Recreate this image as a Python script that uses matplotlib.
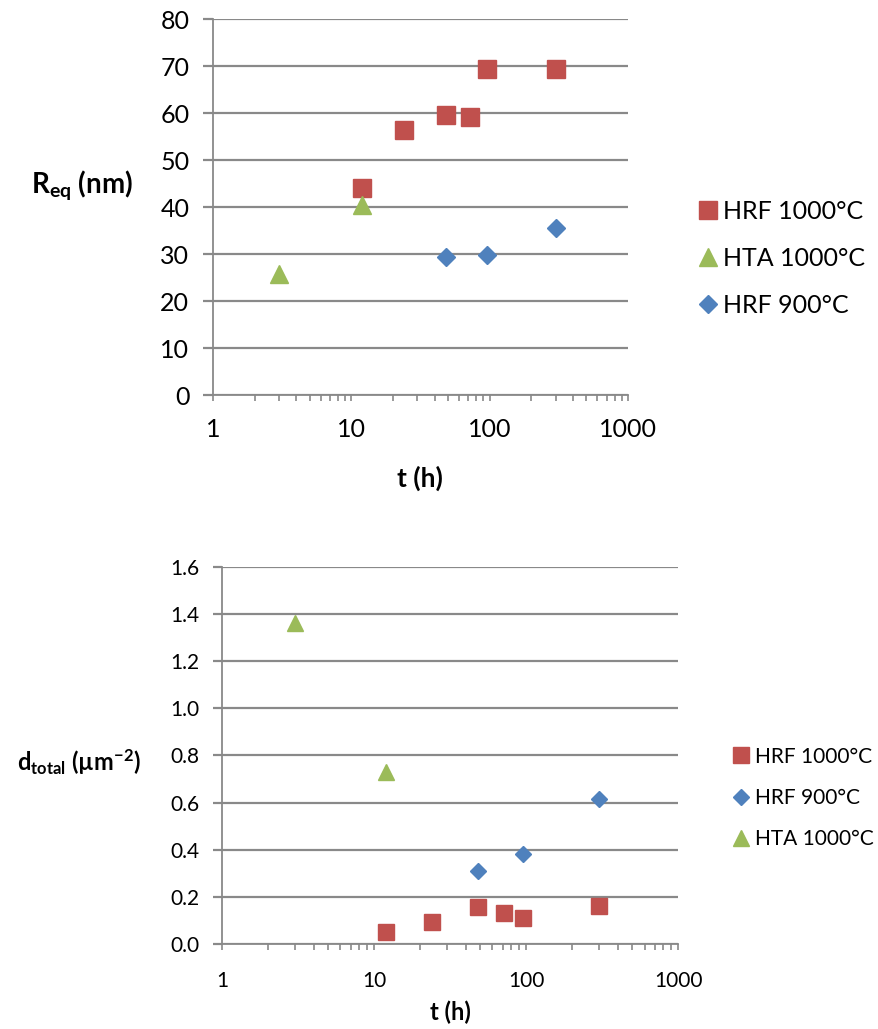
import matplotlib
matplotlib.use("Agg")
import matplotlib.pyplot as plt
from matplotlib.ticker import LogLocator, NullFormatter, FixedLocator

plt.rcParams["font.family"] = ["Lato", "DejaVu Sans"]
plt.rcParams["mathtext.fontset"] = "custom"
plt.rcParams["mathtext.rm"] = "Lato:bold"
plt.rcParams["mathtext.default"] = "rm"

# top panel: equivalent radius
t_hrf1000 = [12, 24, 48, 72, 96, 300]
r_hrf1000 = [44.0, 56.4, 59.6, 59.2, 69.3, 69.3]
t_hta1000 = [3, 12]
r_hta1000 = [25.7, 40.4]
t_hrf900 = [48, 96, 300]
r_hrf900 = [29.3, 29.9, 35.6]

# bottom panel: total density
d_hrf1000 = [0.049, 0.094, 0.158, 0.130, 0.109, 0.162]
d_hrf900 = [0.310, 0.384, 0.614]
d_hta1000 = [1.362, 0.731]

x_ticks = [1, 10, 100, 1000]
r_ticks = [0, 10, 20, 30, 40, 50, 60, 70, 80]
d_ticks = [0.0, 0.2, 0.4, 0.6, 0.8, 1.0, 1.2, 1.4, 1.6]

RED = "#C0504D"
GREEN = "#9BBB59"
BLUE = "#4F81BD"
GRID = "#898989"

fig = plt.figure(figsize=(8.79, 10.29), dpi=100)


def style_axis(ax, yticks, yfmt, tick_size, ylen, ypad, xpad):
    ax.set_xscale("log")
    ax.set_xlim(1, 1000)
    ax.set_ylim(yticks[0], yticks[-1])
    ax.xaxis.set_major_locator(FixedLocator(x_ticks))
    ax.xaxis.set_minor_locator(LogLocator(base=10, subs=range(2, 10)))
    ax.xaxis.set_minor_formatter(NullFormatter())
    ax.set_xticklabels([str(v) for v in x_ticks])
    ax.set_yticks(yticks)
    ax.set_yticklabels([yfmt.format(v) for v in yticks])
    ax.yaxis.grid(True, color=GRID, linewidth=1.6)
    ax.set_axisbelow(True)
    for s in ["top", "right"]:
        ax.spines[s].set_visible(False)
    for s in ["left", "bottom"]:
        ax.spines[s].set_color(GRID)
        ax.spines[s].set_linewidth(1.3)
    ax.tick_params(axis="x", which="both", direction="out", length=4.5, width=1.2,
                   color=GRID, labelsize=tick_size, pad=xpad)
    ax.tick_params(axis="y", which="major", direction="out", length=ylen, width=1.6,
                   color=GRID, labelsize=tick_size, pad=ypad)


# top
ax1 = fig.add_axes([0.2423, 0.616, 0.4721, 0.3655])
ax1.plot(t_hrf1000, r_hrf1000, "s", color=RED, markersize=13, label="HRF 1000°C")
ax1.plot(t_hta1000, r_hta1000, "^", color=GREEN, markersize=13, label="HTA 1000°C")
ax1.plot(t_hrf900, r_hrf900, "D", color=BLUE, markersize=9, label="HRF 900°C")
style_axis(ax1, r_ticks, "{:d}", 18, 7, 10, 12)
fig.text(0.4778, 0.5355, "t (h)", fontsize=19, fontweight="bold",
         ha="center", va="center")
fig.text(0.093, 0.82, r"R$_{eq}$ (nm)", fontsize=20, fontweight="bold",
         ha="center", va="center")
ax1.legend(loc="center left", bbox_to_anchor=(0.794, 0.749),
           bbox_transform=fig.transFigure, frameon=False, fontsize=18,
           handletextpad=0.2, labelspacing=0.97, handlelength=0.8,
           borderaxespad=0, borderpad=0)

# bottom
ax2 = fig.add_axes([0.2526, 0.0826, 0.519, 0.3664])
ax2.plot(t_hrf1000, d_hrf1000, "s", color=RED, markersize=11.5, label="HRF 1000°C")
ax2.plot(t_hrf900, d_hrf900, "D", color=BLUE, markersize=8, label="HRF 900°C")
ax2.plot(t_hta1000, d_hta1000, "^", color=GREEN, markersize=11, label="HTA 1000°C")
style_axis(ax2, d_ticks, "{:.1f}", 15, 6.5, 10, 15)
fig.text(0.512, 0.0165, "t (h)", fontsize=17, fontweight="bold",
         ha="center", va="center")
fig.text(0.09, 0.2595, r"d$_{total}$ (µm$^{-2}$)", fontsize=17, fontweight="bold",
         ha="center", va="center")
ax2.legend(loc="center left", bbox_to_anchor=(0.8336, 0.2245),
           bbox_transform=fig.transFigure, frameon=False, fontsize=15,
           handletextpad=0.25, labelspacing=1.03, handlelength=0.8,
           borderaxespad=0, borderpad=0)

fig.savefig("out.png", dpi=100)
